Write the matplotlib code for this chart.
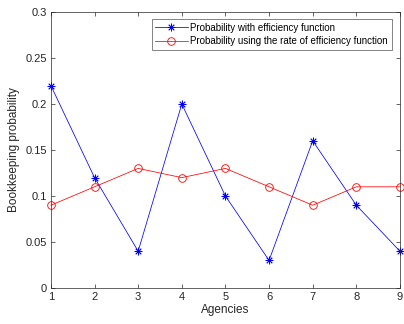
import matplotlib
matplotlib.use("Agg")
import matplotlib.pyplot as plt

agencies = [1, 2, 3, 4, 5, 6, 7, 8, 9]
prob_eff = [0.22, 0.12, 0.04, 0.20, 0.10, 0.03, 0.16, 0.09, 0.04]
prob_rate = [0.09, 0.11, 0.13, 0.12, 0.13, 0.11, 0.09, 0.11, 0.11]
yticks = [0, 0.05, 0.1, 0.15, 0.2, 0.25, 0.3]
ytick_labels = ["0", "0.05", "0.1", "0.15", "0.2", "0.25", "0.3"]

plt.rcParams['font.family'] = ['Liberation Sans', 'DejaVu Sans']
fig = plt.figure(figsize=(4.04, 3.24), dpi=100)
ax = fig.add_axes([0.126, 0.111, 0.864, 0.852])

ax.plot(agencies, prob_eff, color='#0000ff', marker=(8, 2, 0), markersize=5.5,
        linewidth=0.55, markeredgewidth=0.6, label='Probability with efficiency function', clip_on=False)
ax.plot(agencies, prob_rate, color='#ff0000', marker='o', markersize=5.5,
        markerfacecolor='none', linewidth=0.55, markeredgewidth=0.6,
        label='Probability using the rate of efficiency function', clip_on=False)

ax.set_xlim(1, 9)
ax.set_ylim(0, 0.3)
ax.set_xticks(agencies)
ax.set_yticks(yticks)
ax.set_yticklabels(ytick_labels)
ax.tick_params(direction='in', top=True, right=True, labelsize=8, colors='#262626',
               length=3, width=0.5, pad=3)
for s in ax.spines.values():
    s.set_color('#262626')
    s.set_linewidth(0.5)
ax.set_xlabel('Agencies', fontsize=8.5, color='#262626', labelpad=1)
ax.set_ylabel('Bookkeeping probability', fontsize=8.5, color='#262626', labelpad=4)

leg = ax.legend(loc='upper right', bbox_to_anchor=(0.977, 0.975), fontsize=7,
                frameon=True, fancybox=False, edgecolor='#262626',
                borderpad=0.4, labelspacing=0.35, handlelength=3.3, handletextpad=0.3,
                borderaxespad=0.0)
leg.get_frame().set_linewidth(0.5)

fig.savefig('out.png', dpi=100)
